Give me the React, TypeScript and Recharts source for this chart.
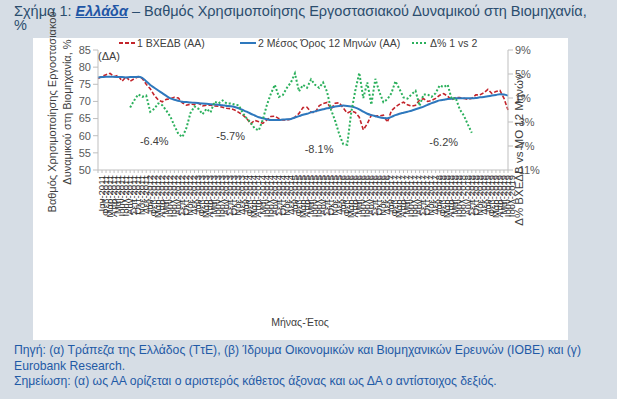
import React from "react";
import { LineChart, Line, XAxis, YAxis, Legend, ReferenceDot } from "recharts";

// μήνες / έτη για τον οριζόντιο άξονα
const months = ["Ιαν", "Φεβ", "Μαρ", "Απρ", "Μαϊ", "Ιουν", "Ιουλ", "Αυγ", "Σεπ", "Οκτ", "Νοε", "Δεκ"];
const years = ["2011", "2012", "2013", "2014", "2015", "2016", "2017", "2018", "2019"];
const periods = years.flatMap((y) => months.map((m) => `${m}-${y}`)).slice(0, 103);

// 1 ΒΧΕΔΒ (ΑΑ)
const bxedb = [
  76.7, 77.3, 77.8, 78.2, 77.2, 77.6, 75.9, 77.2, 75.9, 76.6,
  77.2, 76.7, 75.0, 73.7, 71.8, 70.4, 69.9, 70.6, 70.8, 71.2,
  71.0, 69.6, 68.9, 69.2, 69.1, 69.5, 68.7, 68.9, 68.9, 68.7,
  68.6, 68.3, 68.0, 67.9, 67.5, 66.8, 66.1, 65.0, 63.5, 64.5,
  64.1, 63.6, 64.6, 65.6, 65.7, 65.0, 64.6, 64.6, 64.9, 65.4,
  66.5, 68.2, 68.3, 66.9, 66.7, 68.7, 69.4, 69.7, 67.8, 69.5,
  69.6, 68.1, 66.6, 67.2, 66.8, 65.4, 61.7, 63.5, 66.0, 65.7,
  65.8, 66.0, 64.0, 67.3, 68.4, 69.2, 69.8, 69.0, 68.6, 68.9,
  70.4, 70.8, 70.0, 70.3, 70.9, 71.8, 72.3, 71.5, 70.4, 71.2,
  71.1, 70.9, 70.6, 70.9, 71.9, 71.9, 72.5, 73.5, 72.3, 72.9,
  73.2, 70.9, 67.5,
];

// 2 Μέσος Όρος 12 Μηνών (ΑΑ)
const avg12 = [
  77.0, 77.1, 77.2, 77.2, 77.2, 77.1, 77.1, 77.0, 77.1, 77.1,
  77.2, 76.9, 75.9, 74.8, 74.0, 73.2, 72.4, 71.6, 70.9, 70.5,
  70.2, 69.9, 69.8, 69.7, 69.6, 69.5, 69.4, 69.3, 69.2, 69.1,
  69.0, 68.9, 68.7, 68.6, 68.4, 68.0, 67.5, 67.0, 66.4, 65.9,
  65.4, 65.1, 64.8, 64.6, 64.6, 64.6, 64.7, 64.8, 64.9, 65.3,
  65.7, 66.1, 66.4, 66.8, 67.1, 67.4, 67.7, 68.0, 68.2, 68.5,
  68.7, 68.8, 68.7, 68.5, 68.2, 67.7, 67.0, 66.4, 66.0, 65.7,
  65.4, 65.2, 65.1, 65.5, 66.0, 66.4, 66.7, 67.0, 67.3, 67.7,
  68.1, 68.5, 69.0, 69.5, 69.9, 70.3, 70.5, 70.7, 70.8, 70.9,
  70.9, 70.9, 70.9, 70.9, 71.0, 71.2, 71.3, 71.5, 71.7, 71.9,
  72.1, 72.0, 71.7,
];

// Δ% 1 vs 2 (ΔΑ)
const diff = [
  null, null, null, null, null, null, null, null,
  -0.6, 0.6, 1.6, 1.2, 1.4, -1.3, -0.8, 0.1, -0.2, -1.1,
  -2.1, -3.6, -5.0, -5.5, -4.0, -1.5, -0.4, -0.8, -1.7, -0.8,
  -1.4, 0.4, 0.1, 0.6, 0.1, 0.1, -0.1, -0.2, -1.5, -2.4,
  -3.1, -4.1, -4.4, -2.6, -0.2, 1.7, 3.2, 1.2, 1.5, 2.7,
  3.6, 5.1, 2.1, 3.2, 2.7, 4.1, 3.2, 2.7, 3.6, 2.0,
  -1.0, -2.8, -5.0, -6.7, -6.8, -1.4, 2.2, 5.2, 1.0, 3.6,
  -0.1, 4.2, 2.0, 0.3, 0.8, 1.8, 3.8, 2.5, 1.1, 0.9,
  1.6, 2.2, -0.3, 1.6, 1.6, 1.2, 1.8, 3.1, 2.8, 3.2,
  0.8, 1.0, -0.9, -1.9, -3.4, -4.8,
  null, null, null, null, null, null, null, null, null,
];

const leftTicks = [50, 55, 60, 65, 70, 75, 80, 85];
const rightTicks = [-11, -9, -7, -5, -3, -1, 1, 3, 5, 7, 9];

// σημειώσεις ελαχίστων
const minLabels = ["-6.4%", "-5.7%", "-8.1%", "-6.2%"];
const minAt = [14, 33, 55, 86];
const minLevel = [-6.2, -5.3, -7.5, -6.3];

const series = [
  { key: "bxedb", name: "1 ΒΧΕΔΒ (ΑΑ)", color: "#c3242b", dash: "4 2", width: 1.6, type: "linear" },
  { key: "avg12", name: "2 Μέσος Όρος 12 Μηνών (ΑΑ)", color: "#2e78bd", dash: undefined, width: 2, type: "monotone" },
  { key: "diff", name: "Δ% 1 vs 2", color: "#2bb05c", dash: "2 2", width: 2, type: "linear" },
];

const data = periods.map((p, i) => ({ period: p, bxedb: bxedb[i], avg12: avg12[i], diff: diff[i] }));

const FONT = "'Liberation Sans', Arial, sans-serif";
const legendLeft = [119, 240, 412];

const renderLegend = () => (
  <div style={{ position: "relative", height: 14, fontFamily: FONT, fontSize: 10.5, color: "#404040" }}>
    {series.map((s, i) => (
      <div
        key={s.key}
        style={{ position: "absolute", left: legendLeft[i], top: 0, display: "flex", alignItems: "center", whiteSpace: "nowrap" }}
      >
        <svg width={16} height={10}>
          <line x1={0} y1={5} x2={16} y2={5} stroke={s.color} strokeWidth={2} strokeDasharray={s.dash} />
        </svg>
        <span style={{ marginLeft: 2 }}>{s.name}</span>
      </div>
    ))}
  </div>
);

export default function App() {
  const axisStroke = "#bfbfbf";
  const tickStyle = { fontSize: 11, fill: "#595959", fontFamily: FONT };

  return (
    <div style={{ position: "absolute", left: 0, top: 0, width: 617, height: 399, background: "#d6dde5", overflow: "hidden", fontFamily: FONT }}>
      <div style={{ position: "absolute", left: 14, top: 4, fontSize: 14.5, lineHeight: "14px", color: "#2b4d6e", whiteSpace: "nowrap" }}>
        Σχήμα 1:{" "}
        <span style={{ fontWeight: "bold", fontStyle: "italic", textDecoration: "underline", color: "#1f56a5" }}>Ελλάδα</span>
        {" "}– Βαθμός Χρησιμοποίησης Εργοστασιακού Δυναμικού στη Βιομηχανία,
        <br />%
      </div>

      <div style={{ position: "absolute", left: 33, top: 38, width: 535, height: 302, background: "#ffffff" }} />

      <div style={{ position: "absolute", left: 0, top: 0 }}>
        <LineChart width={617} height={240} data={data} margin={{ top: 50, right: 0, bottom: 0, left: 0 }}>
          <XAxis
            dataKey="period"
            interval={0}
            angle={-90}
            textAnchor="end"
            height={70}
            tick={{ fontSize: 9.5, fill: "#333333", fontFamily: FONT }}
            tickSize={3}
            tickLine={{ stroke: axisStroke }}
            axisLine={{ stroke: axisStroke }}
          />
          <YAxis
            yAxisId="left"
            width={98}
            domain={[50, 85]}
            ticks={leftTicks}
            tick={tickStyle}
            tickSize={5}
            tickLine={{ stroke: axisStroke }}
            axisLine={{ stroke: axisStroke }}
          />
          <YAxis
            yAxisId="right"
            orientation="right"
            width={109}
            domain={[-11, 9]}
            ticks={rightTicks}
            tickFormatter={(v) => `${v}%`}
            tick={tickStyle}
            tickSize={5}
            tickLine={{ stroke: axisStroke }}
            axisLine={{ stroke: axisStroke }}
          />
          <Legend
            layout="horizontal"
            verticalAlign="middle"
            align="center"
            wrapperStyle={{ top: 37, left: 0, width: 617, height: 14 }}
            content={renderLegend}
          />
          {series.map((s) => (
            <Line
              key={s.key}
              yAxisId={s.key === "diff" ? "right" : "left"}
              dataKey={s.key}
              name={s.name}
              type={s.type as "linear" | "monotone"}
              stroke={s.color}
              strokeWidth={s.width}
              strokeDasharray={s.dash}
              dot={false}
              isAnimationActive={false}
            />
          ))}
          {minLabels.map((t, i) => (
            <ReferenceDot
              key={t}
              yAxisId="right"
              x={periods[minAt[i]]}
              y={minLevel[i]}
              r={1}
              fill="none"
              stroke="none"
              label={{ value: t, position: "center", fontSize: 11, fill: "#404040", fontFamily: FONT }}
            />
          ))}
        </LineChart>
      </div>

      <div style={{ position: "absolute", left: 98, top: 50, fontSize: 11, color: "#404040" }}>(ΔΑ)</div>

      <div style={{ position: "absolute", left: 52, top: 112, transform: "translate(-50%, -50%) rotate(-90deg)", fontSize: 11, color: "#404040", whiteSpace: "nowrap" }}>
        Βαθμός Χρησιμοποίησης Εργοστασιακού
      </div>
      <div style={{ position: "absolute", left: 67, top: 112, transform: "translate(-50%, -50%) rotate(-90deg)", fontSize: 11, color: "#404040", whiteSpace: "nowrap" }}>
        Δυναμικού στη Βιομηχανία, %
      </div>
      <div style={{ position: "absolute", left: 519, top: 150, transform: "translate(-50%, -50%) rotate(-90deg)", fontSize: 11.5, color: "#404040", whiteSpace: "nowrap" }}>
        Δ% ΒΧΕΔΒ vs ΜΟ 12 Μηνών
      </div>

      <div style={{ position: "absolute", left: 300, top: 322, transform: "translate(-50%, -50%)", fontSize: 10.5, color: "#404040", whiteSpace: "nowrap" }}>
        Μήνας-Έτος
      </div>

      <div style={{ position: "absolute", left: 14, top: 343, fontSize: 12.2, lineHeight: "15.5px", color: "#1f5aa6", whiteSpace: "nowrap" }}>
        Πηγή: (α) Τράπεζα της Ελλάδος (ΤτΕ), (β) Ίδρυμα Οικονομικών και Βιομηχανικών Ερευνών (ΙΟΒΕ) και (γ)
        <br />
        Eurobank Research.
        <br />
        Σημείωση: (α) ως ΑΑ ορίζεται ο αριστερός κάθετος άξονας και ως ΔΑ ο αντίστοιχος δεξιός.
      </div>
    </div>
  );
}
